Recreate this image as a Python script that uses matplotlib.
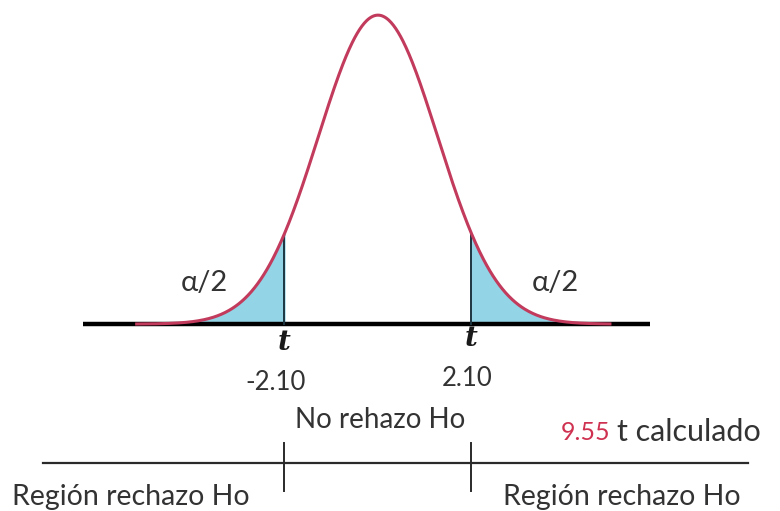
import numpy as np
import matplotlib.pyplot as plt

# valores criticos y t calculado
t_critico = [-2.10, 2.10]
t_labels = ["-2.10", "2.10"]
t_calculado = "9.55"
alpha_label = "α/2"

# forma ilustrativa de la campana (normal, pico = 1)
ancho_campana = 1.34
x_curva = np.linspace(-5.42, 5.21, 600)
y_curva = np.exp(-0.5 * (x_curva / ancho_campana) ** 2)

fig = plt.figure(figsize=(7.8, 5.11), dpi=100)
ax = fig.add_axes([0, 0, 1, 1])
ax.set_xlim(-8.49, 9.03)
ax.set_ylim(-0.605, 1.049)
ax.axis('off')

texto = '#333333'
fuente = 'Lato'

# eje base
ax.plot([-6.63, 6.11], [0, 0], color='black', lw=3.2, solid_capstyle='butt', zorder=2)

# colas sombreadas
izq = x_curva <= t_critico[0]
der = x_curva >= t_critico[1]
ax.fill_between(x_curva[izq], 0, y_curva[izq], color='#93d4e6', zorder=1)
ax.fill_between(x_curva[der], 0, y_curva[der], color='#93d4e6', zorder=1)
for tc in t_critico:
    yc = np.exp(-0.5 * (tc / ancho_campana) ** 2)
    ax.plot([tc, tc], [0, yc], color='#1d3540', lw=1.4, zorder=3)

ax.plot(x_curva, y_curva, color='#c23a5c', lw=2.2, zorder=4)

# etiquetas t
for tc, lab, dx, dy in zip(t_critico, t_labels, [-0.21, -0.10], [-0.188, -0.175]):
    ax.text(tc, dy + 0.128, "t", fontsize=20, fontweight='bold', fontstyle='italic',
            family='DejaVu Serif', color='#1a1a1a', ha='center', va='center')
    ax.text(tc + dx, dy, lab, fontsize=18.5, family=fuente, color=texto,
            ha='center', va='center')

ax.text(-3.89, 0.133, alpha_label, fontsize=21, family=fuente, color=texto, ha='center', va='center')
ax.text(3.98, 0.133, alpha_label, fontsize=21, family=fuente, color=texto, ha='center', va='center')

# recta de decision
ax.plot([-7.53, 8.31], [-0.45, -0.45], color='#2a2a2a', lw=1.6, zorder=2)
for tc in t_critico:
    ax.plot([tc, tc], [-0.385, -0.54], color='#2a2a2a', lw=1.4)

ax.text(0.04, -0.311, "No rehazo Ho", fontsize=20, family=fuente, color=texto, ha='center', va='center')
ax.text(5.21, -0.35, t_calculado, fontsize=18, family=fuente, color='#cf3150', ha='right', va='center')
ax.text(5.36, -0.35, "t calculado", fontsize=22, family=fuente, color=texto, ha='left', va='center')
ax.text(-8.22, -0.56, "Región rechazo Ho", fontsize=20.5, family=fuente, color=texto, ha='left', va='center')
ax.text(2.81, -0.56, "Región rechazo Ho", fontsize=20.5, family=fuente, color=texto, ha='left', va='center')

fig.savefig('out.png', dpi=100, facecolor='white')
